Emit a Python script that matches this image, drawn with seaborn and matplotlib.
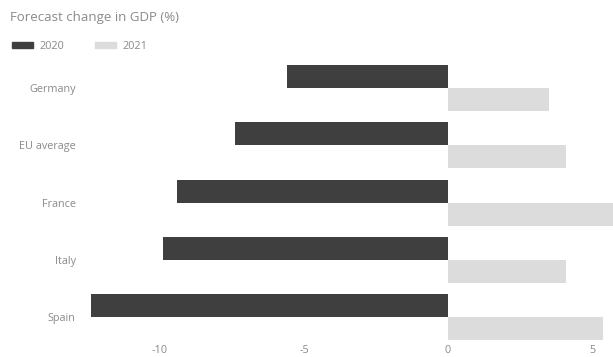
import matplotlib
matplotlib.use("Agg")
import matplotlib.pyplot as plt
import seaborn as sns
import pandas as pd

countries = ["Germany", "EU average", "France", "Italy", "Spain"]
gdp_2020 = [-5.6, -7.4, -9.4, -9.9, -12.4]
gdp_2021 = [3.5, 4.1, 5.9, 4.1, 5.4]
years = ["2020", "2021"]
xticks = [-10, -5, 0, 5]

dark = "#3f3f3f"
light = "#dcdcdc"
text_grey = "#8a8a8a"

df = pd.DataFrame({
    "country": countries * 2,
    "year": [years[0]] * len(countries) + [years[1]] * len(countries),
    "value": gdp_2020 + gdp_2021,
})

sns.set_theme(style="white")
plt.rcParams["font.family"] = ["Open Sans", "DejaVu Sans"]

W, H = 613, 357
fig = plt.figure(figsize=(W / 100, H / 100), dpi=100)
ax = fig.add_axes([80 / W, 1 - 342 / H, (613 - 80) / W, (342 - 58) / H])

sns.barplot(data=df, y="country", x="value", hue="year", order=countries,
            hue_order=years, palette=[dark, light], orient="h", width=0.8,
            saturation=1, edgecolor="none", ax=ax)

ax.set_xlim(-12.78, 5.73)
ax.set_ylim(4.43, -0.524)
ax.set_xticks(xticks)
ax.set_xticklabels([str(t) for t in xticks])
ax.set_xlabel("")
ax.set_ylabel("")
for s in ax.spines.values():
    s.set_visible(False)
ax.tick_params(axis="both", length=0, colors=text_grey, labelsize=7.8)
ax.tick_params(axis="x", pad=2.5)
ax.tick_params(axis="y", pad=3)

ax.get_legend().remove()
handles = [plt.Rectangle((0, 0), 1, 1, color=dark),
           plt.Rectangle((0, 0), 1, 1, color=light)]
fig.legend(handles, years, loc="upper left", bbox_to_anchor=(12 / W, 1 - 41 / H),
           ncol=2, frameon=False, handlelength=1.9, handleheight=0.55,
           handletextpad=0.6, columnspacing=2.9, fontsize=7.8,
           labelcolor=text_grey, borderaxespad=0, borderpad=0)

fig.text(10 / W, 1 - 18 / H, "Forecast change in GDP (%)", color=text_grey,
         fontsize=9.5, va="center", ha="left")

fig.savefig("out.png", dpi=100, facecolor="white")
